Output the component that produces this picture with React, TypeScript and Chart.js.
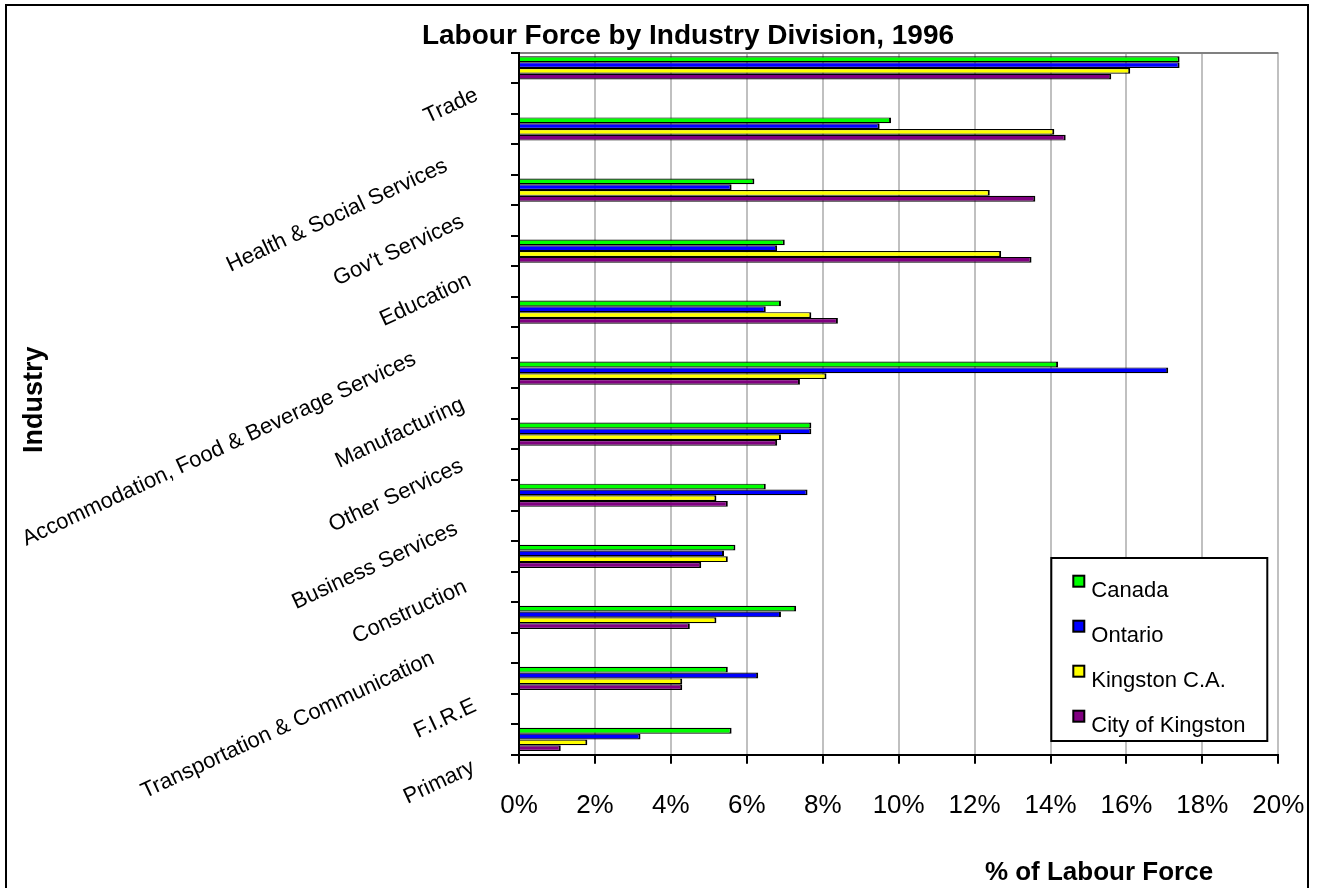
import React, { useEffect, useRef } from "react";
import { Chart, registerables } from "chart.js";

Chart.register(...registerables);

// ---------- data ----------
const categories = [
  "Trade",
  "Health & Social Services",
  "Gov't Services",
  "Education",
  "Accommodation, Food & Beverage Services",
  "Manufacturing",
  "Other Services",
  "Business Services",
  "Construction",
  "Transportation & Communication",
  "F.I.R.E",
  "Primary",
];

const canada = [17.4, 9.8, 6.2, 7.0, 6.9, 14.2, 7.7, 6.5, 5.7, 7.3, 5.5, 5.6];
const ontario = [17.4, 9.5, 5.6, 6.8, 6.5, 17.1, 7.7, 7.6, 5.4, 6.9, 6.3, 3.2];
const kingstonCA = [16.1, 14.1, 12.4, 12.7, 7.7, 8.1, 6.9, 5.2, 5.5, 5.2, 4.3, 1.8];
const cityOfKingston = [15.6, 14.4, 13.6, 13.5, 8.4, 7.4, 6.8, 5.5, 4.8, 4.5, 4.3, 1.1];

const seriesNames = ["Canada", "Ontario", "Kingston C.A.", "City of Kingston"];
const seriesColors = ["#00ff00", "#0000ff", "#ffff00", "#800080"];

const xMin = 0;
const xMax = 20;
const xStep = 2;

const chartTitle = "Labour Force by Industry Division, 1996";
const xTitle = "% of Labour Force";
const yTitle = "Industry";

const FONT = '"Liberation Sans", Arial, Helvetica, sans-serif';
const LABEL_ANGLE = 25;

// Each category is followed by an empty band (as in the original chart)
function interleaveLabels(labels: string[]): string[] {
  const out: string[] = [];
  labels.forEach((l, i) => {
    if (i > 0) out.push("");
    out.push(l);
  });
  return out;
}
function interleaveValues(values: number[]): (number | null)[] {
  const out: (number | null)[] = [];
  values.forEach((v, i) => {
    if (i > 0) out.push(null);
    out.push(v);
  });
  return out;
}

const overlayPlugin = {
  id: "overlay",
  afterDraw(chart: any) {
    const { ctx, chartArea: a } = chart;
    const ys = chart.scales.y;
    ctx.save();
    ctx.fillStyle = "#000";

    // rotated category labels (Excel style placement)
    ctx.font = `22px ${FONT}`;
    ctx.textAlign = "right";
    ctx.textBaseline = "middle";
    (chart.data.labels as string[]).forEach((lab, idx) => {
      if (!lab) return;
      const yc = ys.getPixelForTick(idx);
      const L = ctx.measureText(lab).width;
      const x = a.left - 33 - 0.165 * L;
      const y = yc + 23 + 0.053 * L;
      ctx.save();
      ctx.translate(x, y);
      ctx.rotate((-LABEL_ANGLE * Math.PI) / 180);
      ctx.fillText(lab, 0, 0);
      ctx.restore();
    });

    ctx.textBaseline = "alphabetic";
    // main title
    ctx.textAlign = "center";
    ctx.font = `bold 28px ${FONT}`;
    ctx.fillText(chartTitle, a.left + 169, a.top - 8.4);

    // x axis title
    ctx.font = `bold 26px ${FONT}`;
    ctx.fillText(xTitle, a.left + 580, a.bottom + 125);

    // y axis title
    ctx.save();
    ctx.translate(35, a.top + 347);
    ctx.rotate(-Math.PI / 2);
    ctx.font = `bold 27px ${FONT}`;
    ctx.fillText(yTitle, 0, 0);
    ctx.restore();

    // legend
    const lw = 216;
    const lh = 183;
    const lx = a.right - 227;
    const ly = a.bottom - 196.7;
    ctx.fillStyle = "#fff";
    ctx.fillRect(lx, ly, lw, lh);
    ctx.lineWidth = 2;
    ctx.strokeStyle = "#000";
    ctx.strokeRect(lx, ly, lw, lh);
    ctx.font = `22px ${FONT}`;
    ctx.textAlign = "left";
    chart.data.datasets.forEach((ds: any, i: number) => {
      const base = ly + 38.7 + i * 45;
      ctx.fillStyle = ds.backgroundColor;
      ctx.fillRect(lx + 22, base - 21, 11, 11);
      ctx.lineWidth = 2;
      ctx.strokeStyle = "#000";
      ctx.strokeRect(lx + 22, base - 21, 11, 11);
      ctx.fillStyle = "#000";
      ctx.fillText(ds.label, lx + 40, base);
    });
    ctx.restore();
  },
};

export default function App() {
  const ref = useRef<HTMLCanvasElement | null>(null);

  useEffect(() => {
    if (!ref.current) return;
    Chart.defaults.font.family = FONT;
    const values = [canada, ontario, kingstonCA, cityOfKingston];
    const chart = new Chart(ref.current, {
      type: "bar",
      data: {
        labels: interleaveLabels(categories),
        datasets: seriesNames.map((name, i) => ({
          label: name,
          data: interleaveValues(values[i]),
          backgroundColor: seriesColors[i],
          borderColor: "#000",
          borderWidth: { top: 1.2, bottom: 1.2, right: 2, left: 0 },
          borderSkipped: "start",
          categoryPercentage: 0.76,
          barPercentage: 1,
        })),
      },
      options: {
        indexAxis: "y",
        animation: false,
        responsive: false,
        maintainAspectRatio: false,
        layout: { padding: { top: 46.7, right: 28.7, bottom: 0, left: 0 } },
        plugins: {
          legend: { display: false },
          title: { display: false },
          tooltip: { enabled: false },
        },
        scales: {
          x: {
            type: "linear",
            position: "bottom",
            min: xMin,
            max: xMax,
            ticks: {
              stepSize: xStep,
              callback: (v: any) => `${v}%`,
              font: { family: FONT, size: 26 },
              color: "#000",
              padding: 27,
            },
            grid: {
              color: (c: any) => (c.index === 0 ? "rgba(0,0,0,0)" : "#c0c0c0"),
              lineWidth: 2,
              tickColor: "#000",
              tickLength: 9,
              tickWidth: 2,
            },
            border: { display: true, color: "#000", width: 2 },
            afterFit: (s: any) => {
              s.height = 141.3;
              s.paddingLeft = 0;
              s.paddingRight = 0;
            },
          },
          y: {
            type: "category",
            position: "left",
            ticks: { display: false, autoSkip: false },
            grid: {
              offset: true,
              color: (c: any) => (c.index === 0 ? "#808080" : "rgba(0,0,0,0)"),
              lineWidth: 2,
              tickColor: "#000",
              tickLength: 8,
              tickWidth: 2,
            },
            border: { display: true, color: "#000", width: 2 },
            afterFit: (s: any) => {
              s.width = 512;
              s.paddingTop = 0;
              s.paddingBottom = 0;
            },
          },
        },
      } as any,
      plugins: [overlayPlugin],
    });
    return () => chart.destroy();
  }, []);

  return (
    <div
      style={{
        position: "fixed",
        left: 5,
        top: 4,
        width: 1300,
        height: 890,
        border: "2px solid #000",
        background: "#fff",
        overflow: "hidden",
      }}
    >
      <canvas ref={ref} width={1300} height={890} style={{ display: "block" }} />
    </div>
  );
}
